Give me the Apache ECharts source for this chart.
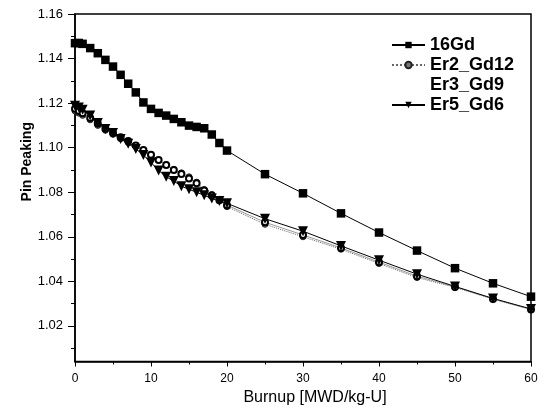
<!DOCTYPE html>
<html>
<head>
<meta charset="utf-8">
<script src="https://cdn.jsdelivr.net/npm/echarts@6/dist/echarts.min.js"></script>
<style>html,body{margin:0;padding:0;background:#fff;}#c{width:543px;height:417px;}</style>
</head>
<body>
<div id="c"></div>
<script>
const burnup = [0, 0.5, 1, 2, 3, 4, 5, 6, 7, 8, 9, 10, 11, 12, 13, 14, 15, 16, 17, 18, 19, 20, 25, 30, 35, 40, 45, 50, 55, 60];
const gd16 = [1.1469, 1.1470, 1.1466, 1.1447, 1.1424, 1.1394, 1.1364, 1.1327, 1.1287, 1.1248, 1.1203, 1.1174, 1.1156, 1.1144, 1.1129, 1.1114, 1.1099, 1.1093, 1.1087, 1.1059, 1.1021, 1.0987, 1.0881, 1.0795, 1.0705, 1.0619, 1.0538, 1.0459, 1.0391, 1.0331];
const er2gd12 = [1.1165, 1.1155, 1.1145, 1.1125, 1.1100, 1.1078, 1.1060, 1.1040, 1.1023, 1.1005, 1.0985, 1.0965, 1.0944, 1.0924, 1.0902, 1.0887, 1.0869, 1.0845, 1.0812, 1.0790, 1.0768, 1.0735, 1.0656, 1.0600, 1.0544, 1.0480, 1.0417, 1.0373, 1.0320, 1.0273];
const er3gd9 = [1.1175, 1.1165, 1.1155, 1.1133, 1.1108, 1.1085, 1.1066, 1.1047, 1.1030, 1.1010, 1.0990, 1.0968, 1.0945, 1.0922, 1.0900, 1.0882, 1.0862, 1.0840, 1.0808, 1.0785, 1.0764, 1.0742, 1.0665, 1.0608, 1.0550, 1.0486, 1.0423, 1.0375, 1.0321, 1.0274];
const er5gd6 = [1.1188, 1.1180, 1.1170, 1.1144, 1.1111, 1.1084, 1.1066, 1.1039, 1.1018, 1.0994, 1.0967, 1.0933, 1.0898, 1.0869, 1.0850, 1.0827, 1.0813, 1.0800, 1.0786, 1.0772, 1.0760, 1.0750, 1.0681, 1.0625, 1.0559, 1.0495, 1.0432, 1.0377, 1.0323, 1.0276];
const yTicks = [1.02, 1.04, 1.06, 1.08, 1.10, 1.12, 1.14, 1.16];
const yMinorTicks = [1.01, 1.03, 1.05, 1.07, 1.09, 1.11, 1.13, 1.15];
const xTicks = [0, 10, 20, 30, 40, 50, 60];

const FONT = 'Liberation Sans, Arial, sans-serif';
const zip = arr => burnup.map((b, i) => [b, arr[i]]);

const chart = echarts.init(document.getElementById('c'), null, {renderer: 'canvas'});
chart.setOption({
  animation: false,
  backgroundColor: '#fff',
  grid: {left: 75, top: 14, width: 456, height: 347.5, show: true, borderColor: '#000', borderWidth: 1.5, backgroundColor: 'transparent'},
  legend: {
    orient: 'vertical', left: 386, top: 31, itemWidth: 33, itemHeight: 8, itemGap: 2,
    textStyle: {fontFamily: FONT, fontSize: 18, fontWeight: 'bold', color: '#000'},
    data: [
      {name: '16Gd'},
      {name: 'Er2_Gd12'},
      {name: 'Er3_Gd9', itemStyle: {opacity: 0}, lineStyle: {opacity: 0}},
      {name: 'Er5_Gd6'}
    ]
  },
  xAxis: {
    type: 'value', min: 0, max: 60, interval: 10,
    name: 'Burnup [MWD/kg-U]', nameLocation: 'middle', nameGap: 26,
    nameTextStyle: {fontFamily: FONT, fontSize: 16, color: '#000', padding: [0, 0, 0, 24]},
    axisLine: {lineStyle: {color: '#000', width: 1.5}},
    axisTick: {show: true, length: 5, inside: false, lineStyle: {color: '#000', width: 1}},
    minorTick: {show: true, splitNumber: 2, length: 3, lineStyle: {color: '#000', width: 1}},
    axisLabel: {fontFamily: FONT, fontSize: 12, color: '#000', margin: 11, customValues: xTicks},
    splitLine: {show: false}
  },
  yAxis: [
    {
      type: 'value', min: 1.004, max: 1.16,
      name: 'Pin Peaking', nameLocation: 'middle', nameGap: 41, nameMoveOverlap: false,
      nameTextStyle: {fontFamily: FONT, fontSize: 14, fontWeight: 'bold', color: '#000', padding: [0, 0, 0, 52]},
      axisLine: {lineStyle: {color: '#000', width: 1.5}},
      axisTick: {show: true, length: 7, customValues: yTicks, lineStyle: {color: '#000', width: 1}},
      axisLabel: {fontFamily: FONT, fontSize: 13, color: '#000', margin: 12, customValues: yTicks, formatter: v => v.toFixed(2)},
      splitLine: {show: false}
    },
    {
      type: 'value', min: 1.004, max: 1.16, position: 'left',
      axisLine: {show: false},
      axisTick: {show: true, length: 4, customValues: yMinorTicks, lineStyle: {color: '#000', width: 1}},
      axisLabel: {show: false},
      splitLine: {show: false}
    }
  ],
  series: [
    {
      name: '16Gd', type: 'line', data: zip(gd16), symbol: 'rect', symbolSize: 8.5,
      itemStyle: {color: '#000'}, lineStyle: {color: '#000', width: 1}, z: 3
    },
    {
      name: 'Er2_Gd12', type: 'line', data: zip(er2gd12), symbol: 'circle', symbolSize: 6,
      itemStyle: {color: '#777', borderColor: '#222', borderWidth: 1}, lineStyle: {color: '#666', width: 1, type: 'dotted'}, z: 2
    },
    {
      name: 'Er3_Gd9', type: 'line', data: zip(er3gd9), symbol: 'emptyCircle', symbolSize: 6,
      itemStyle: {color: '#000', borderColor: '#000', borderWidth: 1}, lineStyle: {color: '#999', width: 1}, z: 2
    },
    {
      name: 'Er5_Gd6', type: 'line', data: zip(er5gd6), symbol: 'triangle', symbolRotate: 180, symbolSize: 10,
      itemStyle: {color: '#000'}, lineStyle: {color: '#000', width: 1}, z: 4
    }
  ]
});
</script>
</body>
</html>
